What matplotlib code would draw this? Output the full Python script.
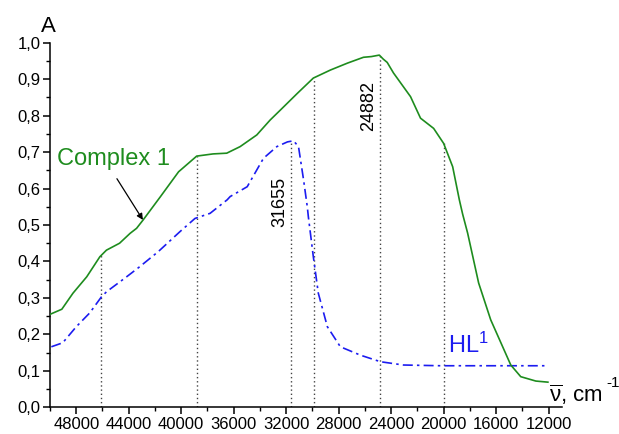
import numpy as np
import matplotlib
matplotlib.use("Agg")
import matplotlib.pyplot as plt
from matplotlib.ticker import MultipleLocator, FuncFormatter

# wavenumber (cm-1) / absorbance
complexX = [50000, 49100, 48250, 47200, 46200, 45700, 44700, 43900, 43400, 42900,
            41600, 40200, 38820, 37570, 36530, 35510, 34240, 33220, 32450, 31150,
            29930, 28630, 27330, 26110, 25500, 24900, 24600, 24300, 23820, 22520,
            21760, 20760, 20000, 19310, 18800, 18550, 18170, 17330, 16410, 14880,
            14120, 12970, 12050]
complexA = [0.255, 0.269, 0.313, 0.358, 0.413, 0.431, 0.450, 0.477, 0.491, 0.514,
            0.577, 0.646, 0.689, 0.695, 0.697, 0.715, 0.747, 0.788, 0.815, 0.861,
            0.903, 0.925, 0.944, 0.960, 0.962, 0.966, 0.955, 0.946, 0.917, 0.852,
            0.793, 0.765, 0.724, 0.660, 0.569, 0.530, 0.478, 0.341, 0.240, 0.116,
            0.084, 0.072, 0.069]

ligandX = [49900, 49030, 48000, 46970, 46080, 45690, 44160, 43150, 41750, 40090,
           38950, 37800, 36500, 36270, 34970, 34240, 33730, 32710, 31900, 31440,
           31060, 30670, 30390, 30310, 29930, 29550, 28860, 27870, 26340, 24810,
           23060, 20230, 17170, 12050]
ligandA = [0.166, 0.177, 0.221, 0.259, 0.303, 0.317, 0.358, 0.386, 0.427, 0.482,
           0.518, 0.532, 0.569, 0.578, 0.605, 0.651, 0.683, 0.715, 0.728, 0.731,
           0.715, 0.623, 0.550, 0.523, 0.413, 0.313, 0.221, 0.166, 0.143, 0.125,
           0.116, 0.114, 0.114, 0.114]

markX = [46100, 38800, 31655, 29900, 24882, 20000]
markOn = ['c', 'c', 'l', 'c', 'c', 'c']
peakLabels = ['31655', '24882']

green = '#1e8c1e'
blue = '#1c1cf0'


def yfmt(v, pos):
    return f"{v:.1f}".replace('.', ',')


def main():
    plt.rcParams['font.family'] = ['Liberation Sans', 'DejaVu Sans']
    plt.rcParams['mathtext.fontset'] = 'custom'
    plt.rcParams['mathtext.rm'] = 'Liberation Sans'
    plt.rcParams['mathtext.it'] = 'Liberation Sans'

    fig = plt.figure(figsize=(6.19, 4.34), dpi=100)
    ax = fig.add_axes([0.0808, 0.0615, 0.9074 - 0.0808, 0.9016 - 0.0615])

    # dotted markers up to the curve
    cx = np.array(complexX[::-1]); ca = np.array(complexA[::-1])
    lx = np.array(ligandX[::-1]); la = np.array(ligandA[::-1])
    for x, on in zip(markX, markOn):
        top = np.interp(x, cx, ca) if on == 'c' else np.interp(x, lx, la)
        ax.plot([x, x], [0, top], color='#444444', lw=1.0, ls=(0, (1, 2)), zorder=1)

    ax.plot(complexX, complexA, color=green, lw=1.2, zorder=3)
    ax.plot(ligandX, ligandA, color=blue, lw=1.2, dashes=[6, 2.5, 1.5, 2.5], zorder=2)

    ax.text(32450, 0.563, peakLabels[0], rotation=90, ha='center', va='center', fontsize=13)
    ax.text(25730, 0.826, peakLabels[1], rotation=90, ha='center', va='center', fontsize=13)

    ax.text(49500, 0.681, 'Complex 1', color=green, fontsize=17, ha='left', va='center')
    ax.annotate('', xy=(42920, 0.514), xytext=(44900, 0.627),
                arrowprops=dict(arrowstyle='-|>', color='black', lw=0.9,
                                mutation_scale=9, shrinkA=0, shrinkB=0))
    ax.text(19700, 0.149, r'HL$^{\mathregular{1}}$', color=blue, fontsize=17,
            ha='left', va='baseline')

    ax.set_xlim(50000, 11000)
    ax.set_ylim(0, 1.0)
    ax.xaxis.set_major_locator(MultipleLocator(4000))
    ax.xaxis.set_minor_locator(MultipleLocator(2000))
    ax.yaxis.set_major_locator(MultipleLocator(0.1))
    ax.yaxis.set_minor_locator(MultipleLocator(0.05))
    ax.yaxis.set_major_formatter(FuncFormatter(yfmt))
    ax.set_xticks([48000, 44000, 40000, 36000, 32000, 28000, 24000, 20000, 16000, 12000])

    for side in ['top', 'right']:
        ax.spines[side].set_visible(False)
    for side in ['left', 'bottom']:
        ax.spines[side].set_linewidth(1.1)
    ax.tick_params(which='major', direction='out', length=5, width=1.1, labelsize=12, pad=2)
    ax.tick_params(which='minor', direction='out', length=3, width=1.0)

    fig.text(48 / 619, 1 - 32 / 434, 'A', fontsize=16, ha='center', va='baseline')
    fig.text(549 / 619, 1 - 402 / 434, r'$\overline{\mathrm{\nu}}$, cm',
             fontsize=16, ha='left', va='baseline')
    fig.text(606 / 619, 1 - 387 / 434, '-1', fontsize=11, ha='left', va='baseline')

    fig.savefig('out.png', dpi=100)
    plt.close(fig)


if __name__ == "__main__":
    main()
